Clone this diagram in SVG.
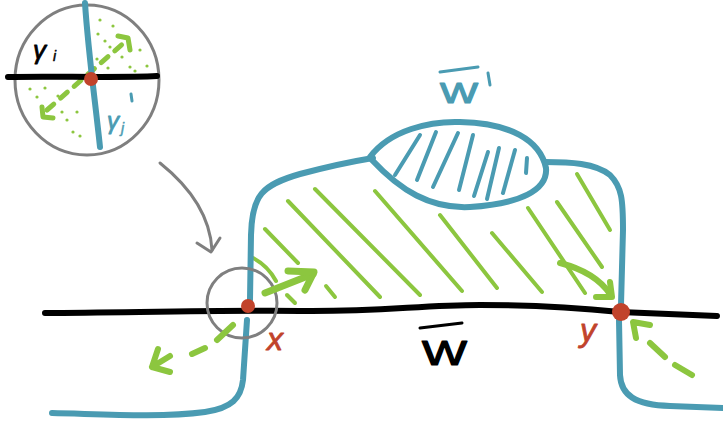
<svg xmlns="http://www.w3.org/2000/svg" width="723" height="423" viewBox="0 0 723 423">
  <style>
    .blue { fill: none; stroke: #4a9bb2; stroke-width: 6; stroke-linecap: round; stroke-linejoin: round; }
    .bluethin { fill: none; stroke: #4a9bb2; stroke-width: 4; stroke-linecap: round; }
    .black { fill: none; stroke: #000; stroke-width: 6; stroke-linecap: round; }
    .hatch { fill: none; stroke: #8cc63f; stroke-width: 4; stroke-linecap: round; stroke-linejoin: round; }
    .garrow { fill: none; stroke: #8cc63f; stroke-width: 7; stroke-linecap: round; stroke-linejoin: round; }
    .gray { fill: none; stroke: #7f7f7f; stroke-width: 3; stroke-linecap: round; stroke-linejoin: round; }
    .dot { fill: #c1432b; }
    .gdot { fill: #8cc63f; }
    .lbl { font-family: "Liberation Sans", Arial, sans-serif; font-style: italic; stroke-linejoin: round; }
    .upright { font-style: normal; }
  </style>

  <!-- shaded region -->
  <g id="region-w">
    <path class="hatch" d="M265,229 L298,263"/>
    <path class="hatch" d="M288,201 L380,297"/>
    <path class="hatch" d="M315,189 L420,295"/>
    <path class="hatch" d="M375,191 L462,291"/>
    <path class="hatch" d="M440,215 L497,288"/>
    <path class="hatch" d="M492,233 L542,292"/>
    <path class="hatch" d="M528,208 L585,293"/>
    <path class="hatch" d="M557,202 L602,267"/>
    <path class="hatch" d="M577,174 L610,230"/>
    <path class="hatch" d="M253,258 Q268,266 276,281"/>
    <path class="hatch" d="M287,295 L295,303"/>
    <path class="hatch" d="M326,286 L335,297"/>
    <path class="blue" d="M52,413 C100,414 160,418 205,412 C232,408 241,398 243,380 L247,320 M250,300 L251,235 C252,195 262,185 300,174 C330,166 355,161 373,158"/>
    <path class="blue" d="M545,162 C570,162 595,163 610,175 C622,187 623,200 623,230 L621,305 M619,320 L620,375 C621,395 635,405 670,406 L723,408"/>
    <text class="lbl upright" x="422" y="365" font-size="35" fill="#000" stroke="#000" stroke-width="1.2" textLength="45" lengthAdjust="spacingAndGlyphs">W</text>
    <path class="black" style="stroke-width:3" d="M420,328 L462,323"/>
  </g>

  <!-- hatched blob W' -->
  <g id="region-w-prime">
    <path class="blue" d="M370,157 C390,130 430,121 460,122 C510,123 540,140 546,168 C548,190 520,204 470,207 C430,209 400,190 372,160 Z"/>
    <path class="bluethin" d="M420,135 L395,175"/>
    <path class="bluethin" d="M436,132 L417,180"/>
    <path class="bluethin" d="M458,133 L433,187"/>
    <path class="bluethin" d="M473,135 L459,190"/>
    <path class="bluethin" d="M488,152 L474,196"/>
    <path class="bluethin" d="M499,148 L487,199"/>
    <path class="bluethin" d="M515,150 L503,193"/>
    <path class="bluethin" d="M527,158 L526,173"/>
    <path class="bluethin" style="stroke-width:3" d="M440,72 L478,67"/>
    <text class="lbl upright" x="440" y="103" font-size="30" fill="#4a9bb2" stroke="#4a9bb2" stroke-width="1.2" textLength="38" lengthAdjust="spacingAndGlyphs">W</text>
    <path class="bluethin" style="stroke-width:3" d="M488,73 L490,85"/>
  </g>

  <!-- boundary line -->
  <g id="boundary">
    <path class="black" d="M45,313 C150,312 250,310 300,311 C380,312 420,305 480,305 C540,305 600,310 620,312 L717,316"/>
  </g>

  <!-- points x and y -->
  <g id="point-x">
    <circle class="dot" cx="248" cy="306" r="7"/>
    <text class="lbl" x="267" y="350" font-size="32" fill="#c1432b" stroke="#c1432b" stroke-width="0.8">x</text>
  </g>
  <g id="point-y">
    <circle class="dot" cx="621" cy="312" r="9"/>
    <text class="lbl" x="580" y="341" font-size="32" fill="#c1432b" stroke="#c1432b" stroke-width="0.8">y</text>
  </g>

  <!-- magnifier -->
  <g id="lens">
    <circle class="gray" cx="242" cy="303" r="35"/>
  </g>

  <!-- zoomed inset -->
  <g id="inset">
    <ellipse class="gray" cx="87" cy="80" rx="72" ry="75"/>
    <g class="gdot">
      <circle cx="100" cy="20" r="1.6"/><circle cx="113" cy="26" r="1.6"/><circle cx="98" cy="34" r="1.6"/>
      <circle cx="105" cy="41" r="1.6"/><circle cx="110" cy="47" r="1.6"/><circle cx="140" cy="50" r="1.6"/>
      <circle cx="122" cy="57" r="1.6"/><circle cx="97" cy="59" r="1.6"/><circle cx="108" cy="68" r="1.6"/>
      <circle cx="130" cy="67" r="1.6"/><circle cx="135" cy="71" r="1.6"/><circle cx="147" cy="66" r="1.6"/>
      <circle cx="30" cy="89" r="1.6"/><circle cx="45" cy="88" r="1.6"/><circle cx="37" cy="97" r="1.6"/>
      <circle cx="58" cy="96" r="1.6"/><circle cx="77" cy="112" r="1.6"/><circle cx="62" cy="112" r="1.6"/>
      <circle cx="67" cy="120" r="1.6"/><circle cx="73" cy="132" r="1.6"/><circle cx="80" cy="136" r="1.6"/>
    </g>
    <path class="garrow" style="stroke-width:5" stroke-dasharray="9 9" d="M47,110 L126,41"/>
    <path class="garrow" style="stroke-width:5" d="M118,36 L128,38 L130,50"/>
    <path class="garrow" style="stroke-width:5" d="M42,107 L43,117 L53,118"/>
    <path class="black" d="M8,77 C50,76 120,78 157,76"/>
    <path class="blue" d="M85,3 C88,50 95,100 100,147"/>
    <circle class="dot" cx="91" cy="79" r="7"/>
    <text class="lbl" x="33" y="59" font-size="26" fill="#000" stroke="#000" stroke-width="0.8">γ</text>
    <text class="lbl" x="53" y="61" font-size="14" fill="#000" stroke="#000" stroke-width="0.5">i</text>
    <text class="lbl" x="107" y="129" font-size="24" fill="#4a9bb2" stroke="#4a9bb2" stroke-width="0.8">γ</text>
    <text class="lbl" x="121" y="133" font-size="14" fill="#4a9bb2" stroke="#4a9bb2" stroke-width="0.5">j</text>
    <path class="bluethin" style="stroke-width:3" d="M131,94 L132,101"/>
  </g>

  <!-- connectors and motion arrows -->
  <g id="connectors">
    <path class="gray" d="M160,163 C190,187 210,215 212,250"/>
    <path class="gray" d="M197,243 L211,252 L220,238"/>
    <path class="garrow" d="M265,293 L313,274"/>
    <path class="garrow" d="M288,271 L314,272 L305,290"/>
    <path class="garrow" style="stroke-width:6" d="M560,263 Q595,272 610,294"/>
    <path class="garrow" style="stroke-width:6" d="M596,297 L612,297 L610,282"/>
    <path class="garrow" style="stroke-width:6" d="M233,325 L217,340 M205,348 L192,354"/>
    <path class="garrow" style="stroke-width:6" d="M158,349 L152,367 L170,372 M152,367 L170,356"/>
    <path class="garrow" style="stroke-width:6" d="M650,343 L665,357 M675,365 L692,375"/>
    <path class="garrow" style="stroke-width:6" d="M650,325 L633,322 L636,338"/>
  </g>
</svg>
